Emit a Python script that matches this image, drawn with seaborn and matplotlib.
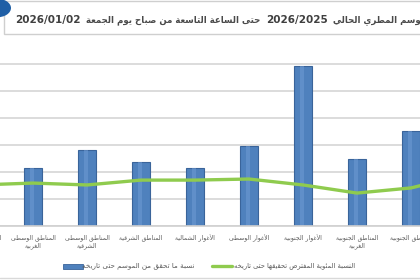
import numpy as np
import pandas as pd
import matplotlib
matplotlib.use("Agg")
import matplotlib.pyplot as plt
from matplotlib.patches import Circle, Rectangle
from matplotlib.offsetbox import TextArea, HPacker, AnchoredOffsetbox
import seaborn as sns

# ---------------- data ----------------
categories = [
    "المناطق الشمالية\nالشرقية",
    "المناطق الوسطى\nالغربية",
    "المناطق الوسطى\nالشرقية",
    "المناطق الشرقية",
    "الأغوار الشمالية",
    "الأغوار الوسطى",
    "الأغوار الجنوبية",
    "المناطق الجنوبية\nالغربية",
    "المناطق الجنوبية",
    "البادية",
]
achieved = [np.nan, 21.5, 28.1, 23.7, 21.5, 29.6, 59.3, 24.8, 35.2, np.nan]
expected = [15.2, 15.9, 15.2, 17.0, 17.0, 17.4, 15.2, 12.2, 14.1, 19.0]
series_labels = [
    "نسبة ما تحقق من الموسم حتى تاريخه",
    "النسبة المئوية المفترض تحقيقها حتى تاريخه",
]
title = "الموسم المطري الحالي 2026/2025 حتى الساعة التاسعة من صباح يوم الجمعة 2026/01/02"

# ---------------- minimal Arabic shaping + RTL ----------------
FOUR = {'ب': 0xFE8F, 'ت': 0xFE95, 'ث': 0xFE99, 'ج': 0xFE9D, 'ح': 0xFEA1, 'خ': 0xFEA5,
        'س': 0xFEB1, 'ش': 0xFEB5, 'ص': 0xFEB9, 'ض': 0xFEBD, 'ط': 0xFEC1, 'ظ': 0xFEC5,
        'ع': 0xFEC9, 'غ': 0xFECD, 'ف': 0xFED1, 'ق': 0xFED5, 'ك': 0xFED9, 'ل': 0xFEDD,
        'م': 0xFEE1, 'ن': 0xFEE5, 'ه': 0xFEE9, 'ي': 0xFEF1, 'ئ': 0xFE89}
TWO = {'ا': 0xFE8D, 'أ': 0xFE83, 'إ': 0xFE87, 'آ': 0xFE81, 'ة': 0xFE93, 'د': 0xFEA9,
       'ذ': 0xFEAB, 'ر': 0xFEAD, 'ز': 0xFEAF, 'و': 0xFEED, 'ى': 0xFEEF, 'ؤ': 0xFE85}
LAMALEF = {'ا': 0xFEFB, 'أ': 0xFEF7, 'إ': 0xFEF9, 'آ': 0xFEF5}


def is_arabic_token(t):
    return any(ch in FOUR or ch in TWO or 0xFE70 <= ord(ch) <= 0xFEFF for ch in t)


def shape_word(w):
    units = []
    i = 0
    while i < len(w):
        c = w[i]
        if c == 'ل' and i + 1 < len(w) and w[i + 1] in LAMALEF:
            units.append(('LA', w[i + 1]))
            i += 2
        else:
            units.append(('C', c))
            i += 1

    def is_ar(u):
        return u[0] == 'LA' or u[1] in FOUR or u[1] in TWO

    def dual(u):
        return u[0] == 'C' and u[1] in FOUR

    out = []
    for j, u in enumerate(units):
        jp = j > 0 and dual(units[j - 1]) and is_ar(u)
        if u[0] == 'LA':
            out.append(chr(LAMALEF[u[1]] + (1 if jp else 0)))
            continue
        c = u[1]
        jn = dual(u) and j + 1 < len(units) and is_ar(units[j + 1])
        if c in FOUR:
            b = FOUR[c]
            out.append(chr(b + (3 if (jp and jn) else 1 if jp else 2 if jn else 0)))
        elif c in TWO:
            out.append(chr(TWO[c] + (1 if jp else 0)))
        else:
            out.append(c)
    return ''.join(out)


def rtl_tokens(line):
    toks = []
    for t in line.split(' '):
        toks.append(shape_word(t)[::-1] if is_arabic_token(t) else t)
    return toks[::-1]


def rtl(text):
    return '\n'.join(' '.join(rtl_tokens(l)) for l in text.split('\n'))


# ---------------- figure ----------------
sns.set_theme(style="white")
plt.rcParams['font.family'] = ['DejaVu Sans']
W, H = 420, 280
fig = plt.figure(figsize=(W / 100, H / 100), dpi=100)
fig.patch.set_facecolor("white")


def fx(x):
    return x / W


def fy(y):
    return 1 - y / H


ax = fig.add_axes([0, fy(226), 1, (226 - 60) / H])

pos = list(range(len(categories)))
df = pd.DataFrame({"cat": categories, "pos": pos, "achieved": achieved, "expected": expected})

sns.barplot(data=df, x="pos", y="achieved", order=pos, color="#4F81BD", width=0.315,
            edgecolor="#3A649A", linewidth=0.8, saturation=1, ax=ax, native_scale=True)
sns.lineplot(data=df, x="pos", y="expected", color="#8FCB4E", linewidth=2.4, ax=ax, zorder=5)

# cylinder-like highlight on bars
for p in list(ax.patches):
    x0, w, h = p.get_x(), p.get_width(), p.get_height()
    if not np.isfinite(h) or h == 0:
        continue
    ax.add_patch(Rectangle((x0 + w * 0.3, 0), w * 0.25, h, facecolor="#6F9BD4",
                           edgecolor="none", alpha=0.55, zorder=p.get_zorder() + 0.1))

x_left = 1 - 33 / 54
x_right = 1 + (W - 33) / 54
ax.set_xlim(x_left, x_right)
ax.set_ylim(0, 166 / 2.7)
ax.set_yticks(np.arange(0, 61, 10))
ax.set_yticklabels([])
ax.set_xticks([])
ax.set_xlabel("")
ax.set_ylabel("")
ax.yaxis.grid(True, color="#D9D9D9", linewidth=1.3)
ax.set_axisbelow(True)
for s in ["top", "left", "right"]:
    ax.spines[s].set_visible(False)
ax.spines["bottom"].set_color("#D0D0D0")
ax.spines["bottom"].set_linewidth(1.2)
ax.tick_params(length=0)
if ax.get_legend():
    ax.get_legend().remove()

# category labels
for p, c in zip(pos, categories):
    ax.annotate(rtl(c), xy=(p, 0), xycoords=("data", "axes fraction"),
                xytext=(0, -6), textcoords="offset points", ha="center", va="top",
                fontsize=4.4, color="#595959", linespacing=1.15, annotation_clip=False)

# legend (manual, RTL layout)
ly = 266
fig.add_artist(Rectangle((fx(63), fy(ly + 2.5)), fx(20), 5 / H, transform=fig.transFigure,
                         facecolor="#4F81BD", edgecolor="#3A649A", linewidth=0.6))
fig.text(fx(195), fy(ly), rtl(series_labels[0]), ha="right", va="center",
         fontsize=5.1, color="#595959")
fig.add_artist(plt.Line2D([fx(212), fx(232)], [fy(ly), fy(ly)], transform=fig.transFigure,
                          color="#8FCB4E", linewidth=2.4))
fig.text(fx(355), fy(ly), rtl(series_labels[1]), ha="right", va="center",
         fontsize=4.9, color="#595959")

# title box + logo
fig.add_artist(Rectangle((fx(4), fy(34)), fx(430), 33 / H, transform=fig.transFigure,
                         facecolor="white", edgecolor="#CFCFCF", linewidth=1.0))

# title: digits larger than Arabic words, packed left-to-right in visual order
segs = []
for t in rtl_tokens(title):
    kind = 'ar' if is_arabic_token(t) else 'num'
    if segs and segs[-1][0] == kind:
        segs[-1][1].append(t)
    else:
        segs.append((kind, [t]))
children = []
for kind, toks in segs:
    txt = ' '.join(toks)
    if kind == 'num':
        props = dict(fontsize=7.5, fontweight="bold", color="#3F3F3F")
    else:
        props = dict(fontsize=6.2, fontweight="bold", color="#4A4A4A")
    children.append(TextArea(txt, textprops=props))
packer = HPacker(children=children, align="center", pad=0, sep=4)
abox = AnchoredOffsetbox(loc="center left", child=packer, pad=0, borderpad=0, frameon=False,
                         bbox_to_anchor=(fx(15), fy(20)), bbox_transform=fig.transFigure)
fig.add_artist(abox)

fig.add_artist(Circle((fx(-3), fy(8)), 14 / W, transform=fig.transFigure,
                      facecolor="#1F5FA6", edgecolor="none"))
fig.add_artist(plt.Line2D([0, 1], [fy(278), fy(278)], transform=fig.transFigure,
                          color="#D9D9D9", linewidth=1.0))

fig.savefig("out.png", dpi=100, facecolor="white")
